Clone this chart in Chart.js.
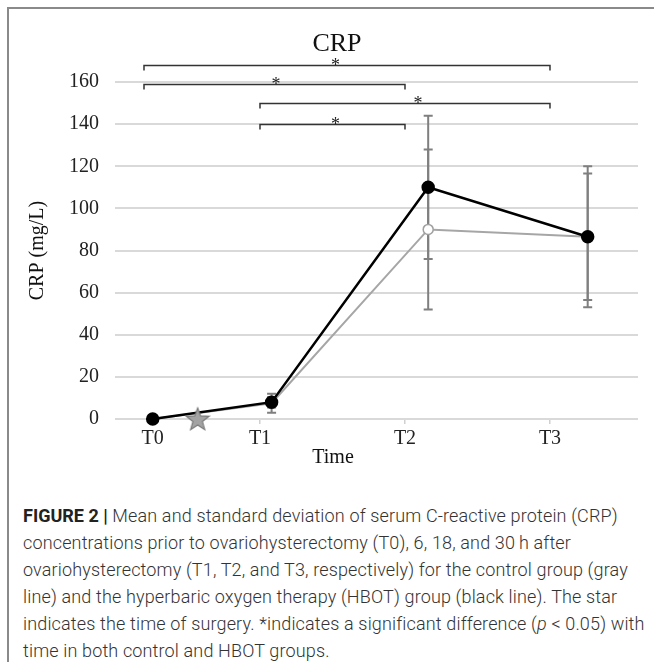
<!DOCTYPE html>
<html>
<head>
<meta charset="utf-8">
<script src="https://cdn.jsdelivr.net/npm/chart.js@4"></script>
<style>
body { margin: 0; background: #fff; }
#wrap { position: relative; width: 654px; height: 662px; overflow: hidden; }
#frame { position: absolute; left: 7px; top: 7px; width: 660px; height: 660px; border-top: 2px solid #8a8a8a; border-left: 2px solid #8a8a8a; }
#box { position: absolute; left: 0; top: 0; width: 654px; height: 480px; }
#caption { position: absolute; left: 23px; top: 502px; font-family: Roboto, sans-serif; font-weight: 300; font-size: 18px; letter-spacing: 0.15px; line-height: 27px; color: #333; white-space: nowrap; }
#caption b { font-weight: 700; color: #222; letter-spacing: 0; }
</style>
</head>
<body>
<div id="wrap">
<div id="frame"></div>
<div id="box"><canvas id="crp" width="654" height="480"></canvas></div>
<div id="caption"><b>FIGURE 2 |</b> Mean and standard deviation of serum C-reactive protein (CRP)<br>concentrations prior to ovariohysterectomy (T0), 6, 18, and 30&thinsp;h after<br>ovariohysterectomy (T1, T2, and T3, respectively) for the control group (gray<br>line) and the hyperbaric oxygen therapy (HBOT) group (black line). The star<br>indicates the time of surgery. *indicates a significant difference (<i>p</i> &lt; 0.05) with<br>time in both control and HBOT groups.</div>
</div>
<script>
// values
const timeLabels = ["T0", "T1", "T2", "T3"];
const labelPos = [0.26, 1, 2, 3];
const timePos = [0.26, 1.08, 2.16, 3.26];
const controlMean = [0, 7.5, 90, 86.5];
const controlSD = [0.5, 4.5, 38, 33.5];
const hbotMean = [0, 8, 110, 86.5];
const hbotSD = [0.5, 2.5, 34, 30];
const surgeryPos = 0.57;
const yTicks = [0, 20, 40, 60, 80, 100, 120, 140, 160];

// significance brackets
const sigFrom = [0.2, 0.2, 1, 1];
const sigTo = [3, 2, 3, 2];
const sigHeight = [168, 159, 150, 140];
const sigStar = [1.52, 1.11, 2.09, 1.52];

const serif = "'Liberation Serif', 'Times New Roman', serif";

function pts(means) {
  return means.map((m, i) => ({ x: timePos[i], y: m }));
}

// grey star for the time of surgery
const starImg = document.createElement('canvas');
starImg.width = 26;
starImg.height = 26;
(function () {
  const c = starImg.getContext('2d');
  c.beginPath();
  for (let i = 0; i < 10; i++) {
    const r = i % 2 ? 5 : 12;
    const a = -Math.PI / 2 + i * Math.PI / 5;
    c.lineTo(13 + r * Math.cos(a), 14 + r * Math.sin(a));
  }
  c.closePath();
  c.fillStyle = '#a3a3a3';
  c.fill();
  c.strokeStyle = '#7a7a7a';
  c.lineWidth = 1.2;
  c.stroke();
})();

const extras = {
  id: 'extras',
  beforeDatasetsDraw(chart) {
    const { ctx, scales: { x, y } } = chart;
    ctx.save();
    ctx.strokeStyle = '#7f7f7f';
    ctx.lineWidth = 2;
    [[controlMean, controlSD], [hbotMean, hbotSD]].forEach(([m, s]) => {
      m.forEach((v, i) => {
        const px = x.getPixelForValue(timePos[i]);
        const top = y.getPixelForValue(v + s[i]);
        const bot = y.getPixelForValue(v - s[i]);
        ctx.beginPath();
        ctx.moveTo(px, top); ctx.lineTo(px, bot);
        ctx.moveTo(px - 4.5, top); ctx.lineTo(px + 4.5, top);
        ctx.moveTo(px - 4.5, bot); ctx.lineTo(px + 4.5, bot);
        ctx.stroke();
      });
    });
    ctx.restore();
  },
  afterDraw(chart) {
    const { ctx, scales: { x, y }, chartArea } = chart;
    ctx.save();
    // brackets
    ctx.strokeStyle = '#333';
    ctx.lineWidth = 1.5;
    ctx.fillStyle = '#222';
    ctx.font = '18px ' + serif;
    ctx.textAlign = 'center';
    ctx.textBaseline = 'alphabetic';
    sigFrom.forEach((f, i) => {
      const x1 = x.getPixelForValue(f);
      const x2 = x.getPixelForValue(sigTo[i]);
      const py = Math.round(y.getPixelForValue(sigHeight[i])) + 0.5;
      ctx.beginPath();
      ctx.moveTo(x1, py + 5); ctx.lineTo(x1, py);
      ctx.lineTo(x2, py); ctx.lineTo(x2, py + 5);
      ctx.stroke();
      ctx.fillText('*', x.getPixelForValue(sigStar[i]), py + 5);
    });
    // titles
    ctx.fillStyle = '#111';
    ctx.textBaseline = 'middle';
    ctx.font = '26px ' + serif;
    ctx.fillText('CRP', 337, 44);
    ctx.font = '20px ' + serif;
    ctx.fillText('Time', 333, 458);
    ctx.translate(38, (chartArea.top + chartArea.bottom) / 2);
    ctx.rotate(-Math.PI / 2);
    ctx.fillText('CRP (mg/L)', 0, 0);
    ctx.restore();
  }
};

new Chart('crp', {
  type: 'line',
  data: {
    datasets: [{
      label: 'Surgery',
      data: [{ x: surgeryPos, y: 0 }],
      pointStyle: starImg,
      showLine: false,
      clip: false,
      order: 0
    }, {
      label: 'HBOT',
      data: pts(hbotMean),
      borderColor: '#000',
      backgroundColor: '#000',
      borderWidth: 2.5,
      pointRadius: 5.5,
      pointBackgroundColor: '#000',
      pointBorderColor: '#000',
      clip: false,
      order: 1
    }, {
      label: 'Control',
      data: pts(controlMean),
      borderColor: '#a6a6a6',
      borderWidth: 2,
      pointRadius: 5,
      pointBackgroundColor: '#fff',
      pointBorderColor: '#a0a0a0',
      pointBorderWidth: 1.5,
      clip: false,
      order: 2
    }]
  },
  options: {
    responsive: false,
    animation: false,
    devicePixelRatio: 1,
    layout: { padding: { top: 82, right: 16, left: 0, bottom: 0 } },
    plugins: { legend: { display: false }, tooltip: { enabled: false }, title: { display: false } },
    scales: {
      x: {
        type: 'linear',
        min: 0,
        max: 3.607,
        afterFit(s) { s.height = 61; },
        afterBuildTicks(s) { s.ticks = labelPos.map(v => ({ value: v })); },
        ticks: {
          callback: (v, i) => timeLabels[i],
          padding: 3,
          maxRotation: 0,
          autoSkip: false,
          color: '#222',
          font: { family: serif, size: 20 }
        },
        grid: {
          drawOnChartArea: false,
          tickLength: 5,
          lineWidth: 1.5,
          color: c => c.index === 0 ? 'rgba(0,0,0,0)' : '#d0d0d0'
        },
        border: { display: false }
      },
      y: {
        min: 0,
        max: 160,
        afterFit(s) { s.width = 115; },
        afterBuildTicks(s) { s.ticks = yTicks.map(v => ({ value: v })); },
        ticks: { padding: 16, color: '#222', font: { family: serif, size: 20 } },
        grid: { color: '#d9d9d9', lineWidth: 2, drawTicks: false },
        border: { display: false }
      }
    }
  },
  plugins: [extras]
});
</script>
</body>
</html>
